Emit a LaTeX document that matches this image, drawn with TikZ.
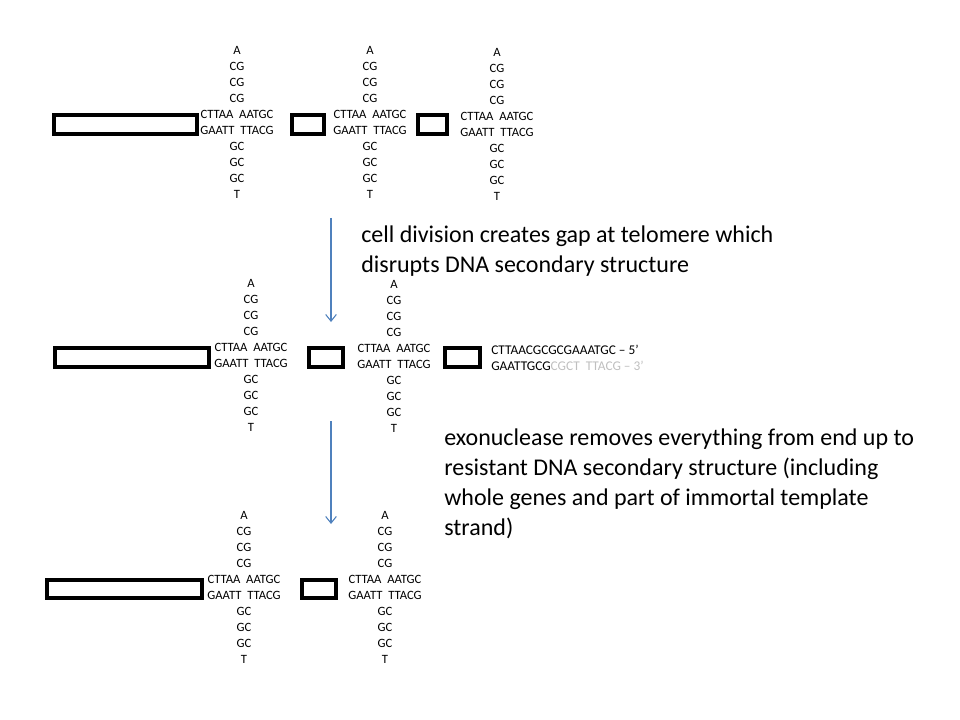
\documentclass[tikz,border=0pt]{standalone}
\usepackage{fontspec}
\setmainfont{Carlito}
\usetikzlibrary{arrows.meta}

\definecolor{arrowblue}{RGB}{79,129,189}
\definecolor{fadegray}{RGB}{191,191,191}

\newcommand{\hairpin}{A\\CG\\CG\\CG\\CTTAA\ \ AATGC\\GAATT\ \ TTACG\\GC\\GC\\GC\\T}

\tikzset{
  stem/.style={align=center, inner sep=0pt, font=\fontsize{9.5}{12}\selectfont},
  gene/.style={draw, line width=3pt},
  note/.style={align=left, inner sep=0pt, anchor=base west, font=\fontsize{18}{22.5}\selectfont},
  divarrow/.style={draw=arrowblue, line width=0.8pt, -{Straight Barb[length=5pt,width=8pt]}}
}

\begin{document}
\begin{tikzpicture}[x=0.75pt, y=-0.75pt]
\useasboundingbox (0,0) rectangle (960,720);

% before division
\draw[gene] (54,115) rectangle (197,134);
\node[stem] (hpA) at (237,122) {\hairpin};
\draw[gene] (292,115) rectangle (324,134);
\node[stem] (hpB) at (370,122) {\hairpin};
\draw[gene] (418,115) rectangle (447,134);
\node[stem] (hpC) at (497,124) {\hairpin};

\coordinate (divtop) at (331,218);
\coordinate (divend) at (331,322);
\draw[divarrow] (divtop) -- (divend); % cell division
\node[note] (gapnote) at (361,273) {cell division creates gap at telomere which\\disrupts DNA secondary structure};

% after division
\draw[gene] (55,348) rectangle (209,367);
\node[stem] (hpD) at (251,355) {\hairpin};
\draw[gene] (309,348) rectangle (343,367);
\node[stem] (hpE) at (394,356) {\hairpin};
\draw[gene] (445,348) rectangle (480,367);
\node[stem, align=left, anchor=west, font=\fontsize{10}{12}\selectfont] (openend) at (491,358) {CTTAACGCGCGAAATGC – 5’\\GAATTGCG\textcolor{fadegray}{CGCT\ \ TTACG – 3’}};

\coordinate (exotop) at (331,421);
\coordinate (exoend) at (331,524);
\draw[divarrow] (exotop) -- (exoend); % exonuclease
\node[note] (exonote) at (444,535) {exonuclease removes everything from end up to\\resistant DNA secondary structure (including\\whole genes and part of immortal template\\strand)};

% after exonuclease
\draw[gene] (47,580) rectangle (202,598);
\node[stem] (hpF) at (244,587) {\hairpin};
\draw[gene] (302,580) rectangle (336,598);
\node[stem] (hpG) at (385,587) {\hairpin};
\end{tikzpicture}
\end{document}
